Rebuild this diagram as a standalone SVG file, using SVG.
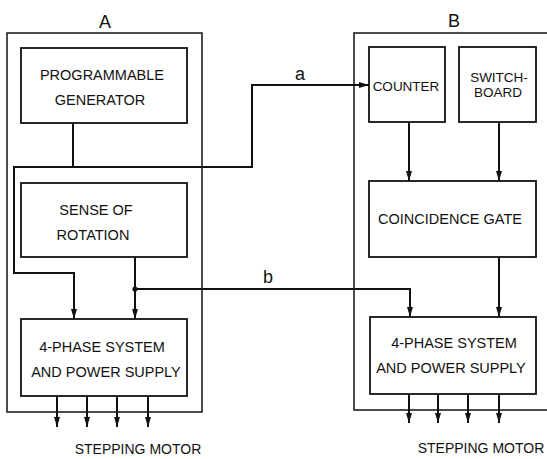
<svg xmlns="http://www.w3.org/2000/svg" width="547" height="459" viewBox="0 0 547 459">
<style>
.frame{fill:none;stroke:#111;stroke-width:1.5}
.box{fill:none;stroke:#111;stroke-width:1.8}
.wire{fill:none;stroke:#111;stroke-width:2}
text{font-family:"Liberation Sans",Arial,sans-serif;fill:#111;text-anchor:middle}
.t{font-size:14.5px}
.s{font-size:13.5px}
.m{font-size:14px}
.lbl{font-size:18px}
</style>
<defs>
<marker id="ar" markerUnits="userSpaceOnUse" markerWidth="12" markerHeight="8" refX="10" refY="4" orient="auto">
<path d="M0,1 L10,4 L0,7 Z" fill="#111"/>
</marker>
</defs>
<rect width="547" height="459" fill="#fff"/>

<g id="unitA">
<rect class="frame" x="7" y="33" width="195" height="379"/>
<text class="lbl" x="105" y="28">A</text>
</g>
<g id="unitB">
<rect class="frame" x="354" y="33" width="200" height="377"/>
<text class="lbl" x="454" y="27">B</text>
</g>

<g id="progGen">
<rect class="box" x="21" y="48" width="166" height="75"/>
<text class="t" x="102" y="80">PROGRAMMABLE</text>
<text class="t" x="100" y="105">GENERATOR</text>
</g>
<g id="sense">
<rect class="box" x="21" y="183" width="166" height="74"/>
<text class="t" x="96" y="215">SENSE OF</text>
<text class="t" x="93" y="240">ROTATION</text>
</g>
<g id="phaseA">
<rect class="box" x="21" y="319" width="166" height="77"/>
<text class="t" x="102" y="352">4-PHASE SYSTEM</text>
<text class="t" x="106" y="377">AND POWER SUPPLY</text>
</g>
<g id="counter">
<rect class="box" x="369" y="47" width="76" height="75"/>
<text class="s" x="406" y="91">COUNTER</text>
</g>
<g id="switchboard">
<rect class="box" x="459" y="47" width="77" height="75"/>
<text class="s" x="499" y="82">SWITCH-</text>
<text class="s" x="498" y="97">BOARD</text>
</g>
<g id="coincidence">
<rect class="box" x="369" y="181" width="167" height="76"/>
<text class="t" x="450" y="224">COINCIDENCE GATE</text>
</g>
<g id="phaseB">
<rect class="box" x="370" y="317" width="166" height="77"/>
<text class="t" x="454" y="348">4-PHASE SYSTEM</text>
<text class="t" x="451" y="373">AND POWER SUPPLY</text>
</g>
<g id="motorA"><text class="m" x="138" y="454">STEPPING MOTOR</text></g>
<g id="motorB"><text class="m" x="481" y="453">STEPPING MOTOR</text></g>

<g id="connectors">
<path class="wire" d="M73,123 V167"/>
<path class="wire" d="M73,167 H252 V85 H369" marker-end="url(#ar)"/>
<path class="wire" d="M73,167 H14 V273 H74 V319" marker-end="url(#ar)"/>
<path class="wire" d="M135,257 V319" marker-end="url(#ar)"/>
<path class="wire" d="M135,289 H410 V317" marker-end="url(#ar)"/>
<circle cx="135" cy="289" r="2.6" fill="#111"/>
<path class="wire" d="M409,122 V181" marker-end="url(#ar)"/>
<path class="wire" d="M499,122 V181" marker-end="url(#ar)"/>
<path class="wire" d="M499,257 V317" marker-end="url(#ar)"/>
<path class="wire" d="M57,396 V427" marker-end="url(#ar)"/>
<path class="wire" d="M87,396 V427" marker-end="url(#ar)"/>
<path class="wire" d="M117,396 V427" marker-end="url(#ar)"/>
<path class="wire" d="M148,396 V427" marker-end="url(#ar)"/>
<path class="wire" d="M409,394 V423" marker-end="url(#ar)"/>
<path class="wire" d="M438,394 V423" marker-end="url(#ar)"/>
<path class="wire" d="M468,394 V423" marker-end="url(#ar)"/>
<path class="wire" d="M499,394 V423" marker-end="url(#ar)"/>
<text class="lbl" x="300" y="80">a</text>
<text class="lbl" x="268" y="283">b</text>
</g>
</svg>
